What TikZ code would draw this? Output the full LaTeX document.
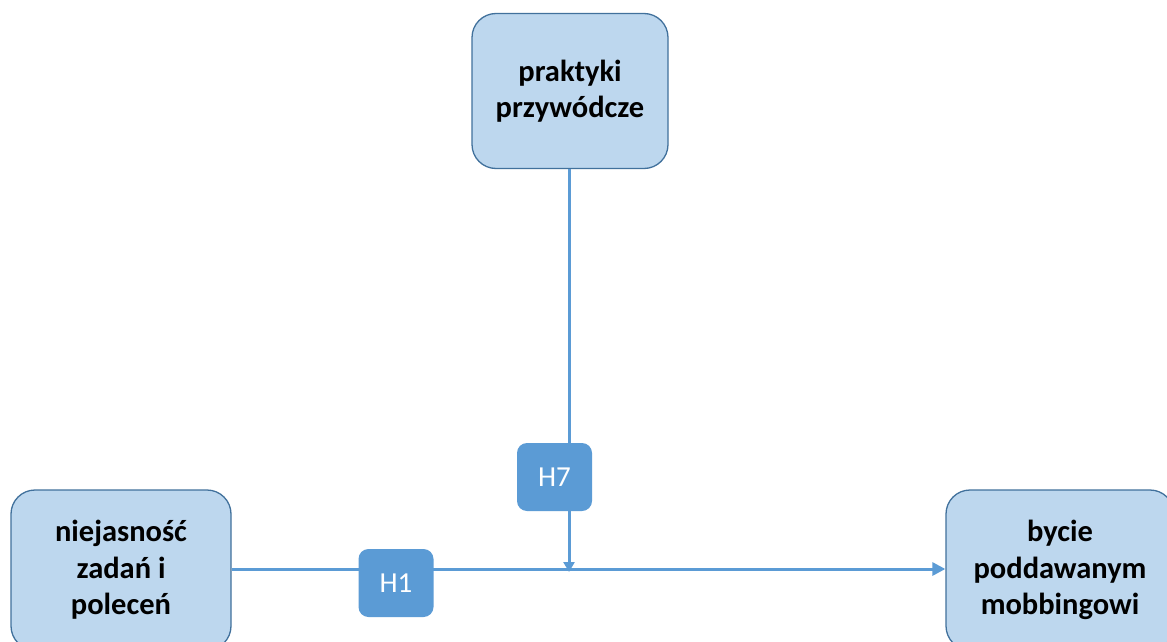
\documentclass[tikz,border=0pt]{standalone}
\usepackage{fontspec}
\setmainfont{Carlito}
\usetikzlibrary{arrows.meta}
\definecolor{boxfill}{HTML}{BDD7EE}
\definecolor{boxline}{HTML}{41719C}
\definecolor{accent}{HTML}{5B9BD5}
\tikzset{
  bigbox/.style={draw=boxline, line width=1.3pt, fill=boxfill, rounded corners=24pt,
    minimum width=#1, minimum height=155pt, align=center, inner sep=0pt,
    font=\fontsize{30.5}{36.5}\selectfont\bfseries, text=black},
  hbox/.style={fill=accent, rounded corners=10pt, minimum width=75pt, minimum height=68pt,
    inner sep=0pt, text=white, font=\fontsize{29}{34}\selectfont},
  conn/.style={draw=accent, line width=3pt},
  tipA/.style={-{Triangle[length=13pt,width=13pt]}}
}
\begin{document}
\begin{tikzpicture}[x=1pt,y=-1pt]
\useasboundingbox (0,0) rectangle (1167,642);
\clip (0,0) rectangle (1167,642);
\fill[white] (0,0) rectangle (1167,642);
\node[bigbox=196pt] (prak) at (570,91) {praktyki\\przywódcze};
\node[bigbox=220pt, minimum height=160pt] (niej) at (121,570) {niejasność\\zadań i\\poleceń};
\node[bigbox=228pt, minimum height=160pt] (byc) at (1060,570) {bycie\\poddawanym\\mobbingowi};
\coordinate (j) at (569,572);
\draw[conn, tipA] (niej.east |- 0,569) -- (byc.west |- 0,569);
\draw[conn, -{Triangle[length=10pt,width=11pt]}] (prak.south -| j) -- (j);
\node[hbox] (h7) at (554.5,477) {H7};
\node[hbox] (h1) at (396,583) {H1};
\end{tikzpicture}
\end{document}
